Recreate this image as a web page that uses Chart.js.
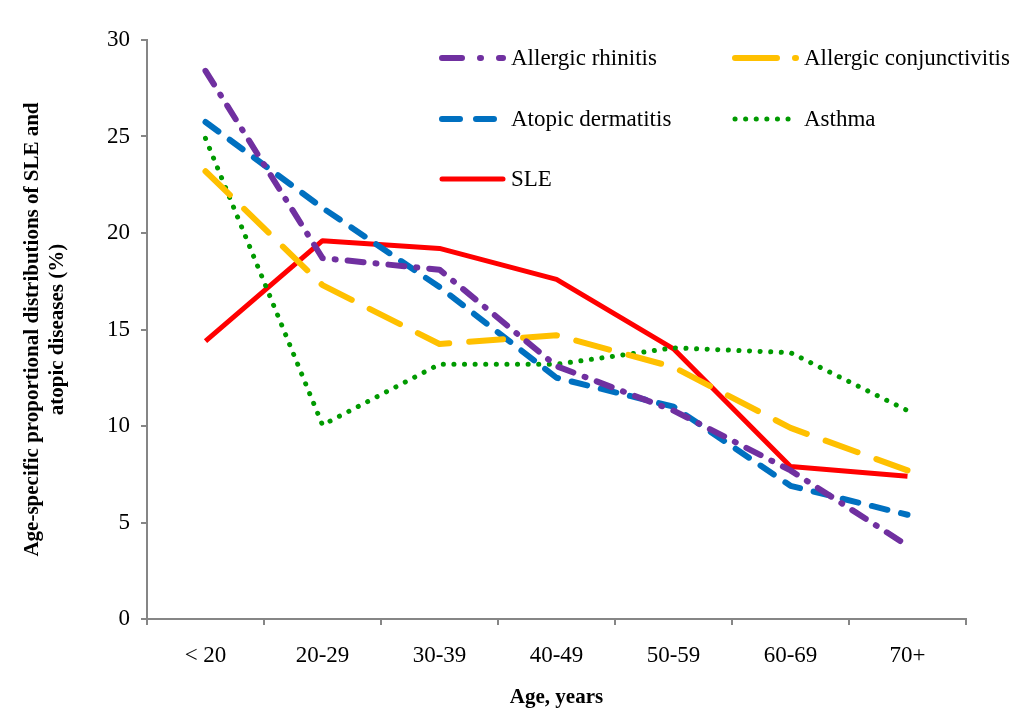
<!DOCTYPE html>
<html><head><meta charset="utf-8">
<script src="https://cdn.jsdelivr.net/npm/chart.js@4"></script>
<style>html,body{margin:0;padding:0;background:#fff}#wrap{width:1024px;height:722px}</style>
</head><body><div id="wrap"><canvas id="c" width="1024" height="722"></canvas></div>
<script>
const categories = ['< 20','20-29','30-39','40-49','50-59','60-69','70+'];
const allergicRhinitis = [28.4, 18.7, 18.1, 13.1, 10.8, 7.7, 3.8];
const allergicConjunctivitis = [23.2, 17.3, 14.25, 14.7, 13.05, 9.9, 7.7];
const atopicDermatitis = [25.75, 21.3, 17.2, 12.5, 11.0, 6.9, 5.4];
const asthma = [24.9, 10.05, 13.2, 13.2, 14.05, 13.8, 10.8];
const sle = [14.4, 19.6, 19.2, 17.6, 14.0, 7.9, 7.4];
const yTicks = [0,5,10,15,20,25,30];

const FONT = 'Liberation Serif, Times New Roman, serif';
function ds(label, data, color, dash, width, cap){
  return {label, data, borderColor: color, backgroundColor: color, borderDash: dash,
    borderWidth: width, borderCapStyle: cap, borderJoinStyle:'round', pointRadius:0, tension:0, fill:false};
}
const datasets = [
  ds('Allergic rhinitis', allergicRhinitis, '#7030A0', [16,12,1,12], 6, 'round'),
  ds('Allergic conjunctivitis', allergicConjunctivitis, '#FFC000', [34,20], 6, 'round'),
  ds('Atopic dermatitis', atopicDermatitis, '#0070C0', [16,14], 6, 'round'),
  ds('Asthma', asthma, '#009A00', [0.1,10.5], 5, 'round'),
  ds('SLE', sle, '#FF0000', [], 5, 'butt')
];
const legendPlugin = {
  id:'customLegend',
  afterDraw(chart){
    const ctx = chart.ctx;
    const items = [
      {i:0, x:442, y:58, dash:[20,18,1,18]}, {i:1, x:735, y:58, dash:[42,18,1,18]},
      {i:2, x:442, y:119, dash:[18,16]}, {i:3, x:735, y:119, dash:[0.1,10.5]},
      {i:4, x:442, y:179, dash:[]}
    ];
    ctx.save();
    items.forEach(it=>{
      const d = chart.data.datasets[it.i];
      ctx.beginPath();
      ctx.strokeStyle = d.borderColor;
      ctx.lineWidth = d.borderWidth;
      ctx.lineCap = 'round';
      ctx.setLineDash(it.dash);
      ctx.moveTo(it.x, it.y);
      ctx.lineTo(it.x+61, it.y);
      ctx.stroke();
      ctx.setLineDash([]);
      ctx.fillStyle = '#000';
      ctx.font = '23px ' + FONT;
      ctx.textBaseline = 'middle';
      ctx.textAlign = 'left';
      ctx.fillText(d.label, it.x+69, it.y+1);
    });
    ctx.restore();
  }
};

new Chart(document.getElementById('c'), {
  type:'line',
  data:{labels: categories, datasets},
  options:{
    responsive:false, animation:false,
    layout:{padding:{top:40, right:58, left:20, bottom:0}},
    plugins:{legend:{display:false}, tooltip:{enabled:false}},
    scales:{
      x:{
        offset:true,
        grid:{offset:true, drawOnChartArea:false, drawTicks:true, tickLength:6, color:'#868686', lineWidth:2},
        border:{color:'#868686', width:2},
        ticks:{color:'#000', font:{family:FONT, size:23}, padding:17, maxRotation:0},
        title:{display:true, text:'Age, years', color:'#000', font:{family:FONT, size:21, weight:'bold'}, padding:{top:4, bottom:12}},
        afterFit(s){ s.height = 103; }
      },
      y:{
        min:0, max:30,
        afterBuildTicks(s){ s.ticks = yTicks.map(v=>({value:v})); },
        grid:{drawOnChartArea:false, drawTicks:true, tickLength:6, color:'#868686', lineWidth:2},
        border:{color:'#868686', width:2},
        ticks:{color:'#000', font:{family:FONT, size:23}, padding:11},
        title:{display:true, text:['Age-specific proportional distributions of SLE and','atopic diseases (%)'], color:'#000', font:{family:FONT, size:21, weight:'bold'}, padding:{top:0,bottom:0}},
        afterFit(s){ s.width = 127; }
      }
    }
  },
  plugins:[legendPlugin]
});
</script></body></html>
